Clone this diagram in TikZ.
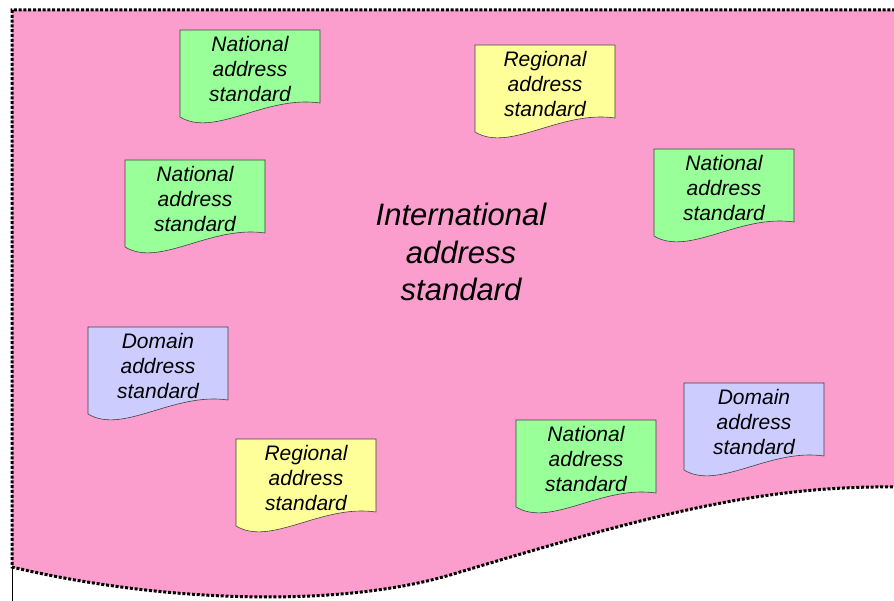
\documentclass[tikz,border=0pt]{standalone}
\usepackage{fontspec}
\setmainfont{Liberation Sans}
\definecolor{intlpink}{RGB}{252,158,205}
\definecolor{natgreen}{RGB}{153,255,153}
\definecolor{regyellow}{RGB}{255,255,153}
\definecolor{domblue}{RGB}{204,204,255}
\begin{document}
\begin{tikzpicture}[x=1pt,y=-1pt,
  sheetline/.style={draw=black!75, line width=0.6pt},
  sheettext/.style={font=\itshape\fontsize{21}{25}\selectfont, align=center, inner sep=0pt},
  areatext/.style={font=\itshape\fontsize{31}{37.5}\selectfont, align=center, inner sep=0pt},
  areaborder/.style={draw=black, line width=3pt, dash pattern=on 3pt off 1.8pt},
  % document sheet with a wavy lower edge, 140 wide
  pics/docsheet/.style 2 args={code={
    \path[sheetline, fill=#1] (0,0) -- (140,0) -- (140,73)
      .. controls (85,65) and (35,108) .. (0,87) -- cycle;
    \node[sheettext] (-label) at (70,39) {#2};
  }}]
\clip (0,0) rectangle (894,601);

% international standard area
\path[fill=intlpink] (12,10) -- (900,10) -- (900,487)
  .. controls (760,485) and (650,515) .. (450,575)
  .. controls (330,610) and (150,600) .. (12,567) -- cycle;
\draw[areaborder] (900,10) -- (12,10) -- (12,567)
  .. controls (150,600) and (330,610) .. (450,575)
  .. controls (650,515) and (760,485) .. (900,487);
\draw[line width=0.8pt] (12,567) -- (12,601);

\node[areatext] (intl) at (461,252) {International\\address\\standard};

% national, regional and domain standards
\pic (nat1) at (180,30)  {docsheet={natgreen}{National\\address\\standard}};
\pic (reg1) at (475,45)  {docsheet={regyellow}{Regional\\address\\standard}};
\pic (nat2) at (125,160) {docsheet={natgreen}{National\\address\\standard}};
\pic (nat3) at (654,149) {docsheet={natgreen}{National\\address\\standard}};
\pic (dom1) at (88,327)  {docsheet={domblue}{Domain\\address\\standard}};
\pic (reg2) at (236,439) {docsheet={regyellow}{Regional\\address\\standard}};
\pic (nat4) at (516,420) {docsheet={natgreen}{National\\address\\standard}};
\pic (dom2) at (684,383) {docsheet={domblue}{Domain\\address\\standard}};
\end{tikzpicture}
\end{document}
